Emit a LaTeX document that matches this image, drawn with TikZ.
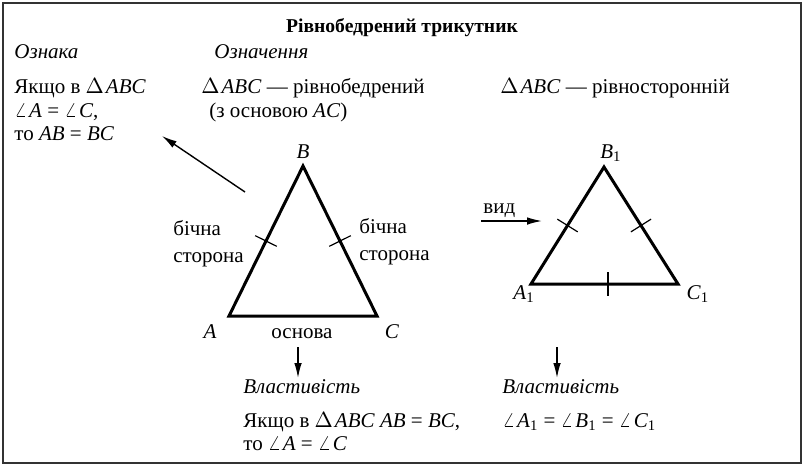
\documentclass[tikz,border=0pt]{standalone}
\usepackage{fontspec}
\setmainfont{Liberation Serif}
\usetikzlibrary{arrows.meta,calc}

\newcommand{\tr}{$\Delta$\kern1pt}
\newcommand{\ang}{$\angle$\kern1pt}

\begin{document}
\begin{tikzpicture}[x=0.5pt,y=-0.5pt,
    every node/.style={font=\fontsize{10.5}{12}\selectfont},
    txt/.style={anchor=base west,inner sep=0pt},
    vert/.style={inner sep=0pt},
    side/.style={line width=1.5pt,line join=miter},
    tick/.style={line width=0.6pt},
    arr/.style={line width=0.7pt,-{Latex[length=7.5pt,width=3.8pt]}}]
    \useasboundingbox (0,0) rectangle (804,468);
    \draw[line width=1.2pt,black!80] (3,3) rectangle (801,463);

    % headings
    \node[inner sep=0pt,anchor=base,font=\fontsize{9.8}{12}\selectfont\bfseries]
    (title) at (402,32) {Рівнобедрений трикутник};
    \node[txt] (oznaka) at (14,58) {\textit{Ознака}};
    \node[txt] (oznach) at (214,58) {\textit{Означення}};

    % left column
    \node[txt] (if1) at (14,93) {Якщо в \tr\textit{ABC}};
    \node[txt] (if2) at (14,117) {\ang\textit{A} = \ang\textit{C},};
    \node[txt] (if3) at (14,140) {то \textit{AB} = \textit{BC}};

    % definitions
    \node[txt] (def1) at (201,93) {\tr\textit{ABC} — рівнобедрений};
    \node[txt] (def2) at (209,117) {(з основою \textit{AC})};
    \node[txt] (def3) at (500,93) {\tr\textit{ABC} — рівносторонній};

    % isosceles triangle
    \coordinate (A) at (229,316);
    \coordinate (B) at (303,166);
    \coordinate (C) at (377,316);
    \draw[side] (A) -- (B) -- (C) -- cycle;
    \node[vert] (lA) at (210,332) {\textit{A}};
    \node[vert] (lB) at (303,152) {\textit{B}};
    \node[vert] (lC) at (392,332) {\textit{C}};
    \node[vert,anchor=base] (base) at (302,338) {основа};
    \node[txt] (lat1) at (173,235) {бічна};
    \node[txt] (lat2) at (173,262) {сторона};
    \node[txt] (lat3) at (359,233) {бічна};
    \node[txt] (lat4) at (359,260) {сторона};
    \coordinate (mAB) at ($(A)!0.5!(B)$);
    \coordinate (mBC) at ($(B)!0.5!(C)$);
    \draw[tick] ($(mAB)!6pt!90:(B)$) -- ($(mAB)!6pt!-90:(B)$);
    \draw[tick] ($(mBC)!6pt!90:(C)$) -- ($(mBC)!6pt!-90:(C)$);

    \coordinate (t0) at (245,192);
    \coordinate (t1) at (162,136);
    \draw[arr] (t0) -- (t1);

    % equilateral triangle
    \coordinate (A1) at (531,284);
    \coordinate (B1) at (604,167);
    \coordinate (C1) at (678,284);
    \draw[side] (A1) -- (B1) -- (C1) -- cycle;
    \node[vert] (lA1) at (524,294) {\textit{A}\textsubscript{1}};
    \node[vert] (lB1) at (611,153) {\textit{B}\textsubscript{1}};
    \node[vert] (lC1) at (698,294) {\textit{C}\textsubscript{1}};
    \coordinate (mA1B1) at ($(A1)!0.5!(B1)$);
    \coordinate (mB1C1) at ($(B1)!0.5!(C1)$);
    \coordinate (mA1C1) at (608,284);
    \draw[tick] ($(mA1B1)!6pt!90:(B1)$) -- ($(mA1B1)!6pt!-90:(B1)$);
    \draw[tick] ($(mB1C1)!6pt!90:(C1)$) -- ($(mB1C1)!6pt!-90:(C1)$);
    \draw[tick] ($(mA1C1)!6pt!90:(C1)$) -- ($(mA1C1)!6pt!-90:(C1)$);

    \node[txt] (vyd) at (483,213) {вид};
    \coordinate (v0) at (481,221);
    \coordinate (v1) at (542,221);
    \draw[arr] (v0) -- (v1);

    % properties
    \coordinate (d0) at (298,347);
    \coordinate (d1) at (298,378);
    \coordinate (e0) at (557,347);
    \coordinate (e1) at (557,378);
    \draw[arr] (d0) -- (d1);
    \draw[arr] (e0) -- (e1);
    \node[txt] (prop1) at (243,393) {\textit{Властивість}};
    \node[txt] (prop2) at (502,393) {\textit{Властивість}};
    \node[txt] (res1) at (243,427) {Якщо в \tr\textit{ABC} \textit{AB} = \textit{BC},};
    \node[txt] (res2) at (243,450) {то \ang\textit{A} = \ang\textit{C}};
    \node[txt] (res3) at (502,427)
    {\ang\textit{A}\textsubscript{1} = \ang\textit{B}\textsubscript{1} = \ang\textit{C}\textsubscript{1}};
\end{tikzpicture}
\end{document}
